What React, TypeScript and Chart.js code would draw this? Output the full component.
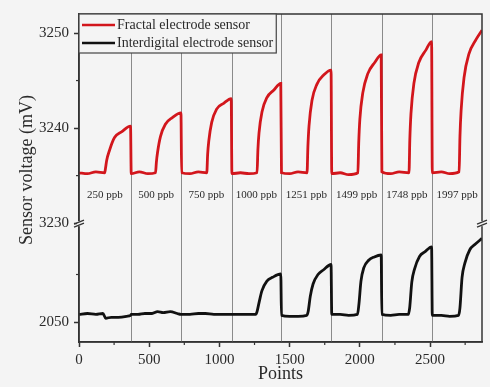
import React, { useEffect, useRef } from 'react';
import { Chart, registerables } from 'chart.js';

Chart.register(...registerables);

const FONT = "'Liberation Serif', 'Times New Roman', serif";
const BG = '#f4f4f4';
const INK = '#2a2a2a';

// ---- data ----
const fractalLabel = 'Fractal electrode sensor';
const interLabel = 'Interdigital electrode sensor';

const fractalX = [
  0, 60, 120, 183, 189, 197, 218, 253, 303, 367,
  372, 430, 490, 545, 551, 559, 580, 615, 665, 726,
  731, 790, 850, 910, 916, 924, 945, 980, 1030, 1084,
  1089, 1150, 1210, 1268, 1274, 1282, 1303, 1338, 1388, 1437,
  1442, 1500, 1560, 1624, 1630, 1638, 1659, 1694, 1744, 1795,
  1800, 1860, 1920, 1986, 1992, 2000, 2021, 2056, 2106, 2152,
  2157, 2220, 2280, 2350, 2356, 2364, 2385, 2420, 2470, 2511,
  2516, 2580, 2640, 2707, 2713, 2721, 2742, 2777, 2827, 2870,
];
const fractalMv = [
  3235.3, 3235.2, 3235.4, 3235.3, 3235.8, 3236.6, 3237.7, 3239.0, 3239.6, 3240.2,
  3235.2, 3235.4, 3235.2, 3235.3, 3236.4, 3237.4, 3239.1, 3240.4, 3241.1, 3241.6,
  3235.3, 3235.2, 3235.4, 3235.3, 3237.2, 3238.6, 3240.6, 3242.0, 3242.6, 3243.1,
  3235.2, 3235.3, 3235.2, 3235.3, 3237.7, 3239.5, 3241.7, 3243.2, 3244.0, 3244.7,
  3235.3, 3235.2, 3235.4, 3235.3, 3238.0, 3240.2, 3242.9, 3244.6, 3245.6, 3246.1,
  3235.2, 3235.3, 3235.1, 3235.3, 3238.4, 3240.9, 3243.7, 3245.7, 3246.9, 3247.7,
  3235.4, 3235.2, 3235.4, 3235.3, 3238.8, 3241.5, 3244.7, 3246.9, 3248.2, 3249.1,
  3235.3, 3235.4, 3235.2, 3235.4, 3239.1, 3241.8, 3245.3, 3247.8, 3249.3, 3250.3,
];

const interX = [
  0, 60, 120, 170, 190, 230, 280, 340, 367,
  372, 420, 470, 520, 560, 600, 650, 700, 726,
  731, 790, 850, 900, 960, 1020, 1084,
  1089, 1150, 1200, 1258, 1268, 1283, 1303, 1338, 1378, 1437,
  1442, 1500, 1560, 1622, 1632, 1647, 1667, 1702, 1742, 1795,
  1800, 1860, 1920, 1983, 1993, 2008, 2028, 2063, 2103, 2152,
  2157, 2220, 2280, 2345, 2355, 2370, 2390, 2425, 2465, 2511,
  2516, 2580, 2640, 2703, 2713, 2728, 2748, 2783, 2823, 2870,
];
const interMv = [
  2050.8, 2050.9, 2050.8, 2050.9, 2050.4, 2050.5, 2050.5, 2050.6, 2050.7,
  2050.8, 2050.8, 2050.9, 2050.9, 2051.1, 2051.0, 2051.1, 2050.9, 2050.8,
  2050.8, 2050.8, 2050.9, 2050.9, 2050.8, 2050.8, 2050.8,
  2050.8, 2050.8, 2050.8, 2050.8, 2051.1, 2052.1, 2053.3, 2054.3, 2054.7, 2055.05,
  2050.7, 2050.6, 2050.6, 2050.7, 2051.1, 2052.7, 2054.0, 2055.0, 2055.5, 2056.05,
  2050.8, 2050.8, 2050.7, 2050.8, 2051.8, 2054.3, 2055.7, 2056.5, 2056.85, 2057.05,
  2050.8, 2050.7, 2050.8, 2050.8, 2051.5, 2054.2, 2055.6, 2056.9, 2057.4, 2057.9,
  2050.7, 2050.7, 2050.6, 2050.7, 2051.5, 2054.7, 2056.2, 2057.6, 2058.2, 2058.8,
];

const segmentEdges = [0, 370, 729, 1087, 1440, 1798, 2155, 2514, 2870];
const concentrations = ['250 ppb', '500 ppb', '750 ppb', '1000 ppb', '1251 ppb', '1499 ppb', '1748 ppb', '1997 ppb'];
const concentrationLabelMv = 3233;

const xMin = 0;
const xMax = 2870;
const xMajorTicks = [0, 500, 1000, 1500, 2000, 2500];
const xMinorTicks = [250, 750, 1250, 1750, 2250, 2750];

const yTopMin = 3230;
const yTopMax = 3252;
const yTopMajorTicks = [3230, 3240, 3250];
const yTopMinorTicks = [3235, 3245];

const yBotMin = 2047.9;
const yBotMax = 2060.4;
const yBotMajorTicks = [2050];
const yBotMinorTicks = [2055];

const xTitle = 'Points';
const yTitle = 'Sensor voltage (mV)';

const RED = '#d2161c';
const BLACK = '#111111';

const toPoints = (xs: number[], ys: number[]) => xs.map((x, i) => ({ x, y: ys[i] }));
const plainLabel = (v: any) => String(v);

const decorPlugin = {
  id: 'decor',
  beforeDraw(chart: any) {
    const { ctx, width, height } = chart;
    ctx.save();
    ctx.fillStyle = BG;
    ctx.fillRect(0, 0, width, height);
    ctx.restore();
  },
  beforeDatasetsDraw(chart: any) {
    const { ctx, chartArea } = chart;
    const xs = chart.scales.x;
    ctx.save();
    ctx.strokeStyle = '#8a8a8a';
    ctx.lineWidth = 1;
    for (let i = 1; i < segmentEdges.length - 1; i++) {
      const px = Math.round(xs.getPixelForValue(segmentEdges[i])) + 0.5;
      ctx.beginPath();
      ctx.moveTo(px, chartArea.top);
      ctx.lineTo(px, chartArea.bottom);
      ctx.stroke();
    }
    ctx.restore();
  },
  afterDatasetsDraw(chart: any) {
    const { ctx, chartArea } = chart;
    const xs = chart.scales.x;
    const yt = chart.scales.yTop;
    const yb = chart.scales.yBot;
    ctx.save();

    // concentration labels
    ctx.fillStyle = INK;
    ctx.font = `11px ${FONT}`;
    ctx.textAlign = 'center';
    ctx.textBaseline = 'middle';
    const ly = yt.getPixelForValue(concentrationLabelMv);
    for (let i = 0; i < concentrations.length; i++) {
      const cx = (xs.getPixelForValue(segmentEdges[i]) + xs.getPixelForValue(segmentEdges[i + 1])) / 2;
      ctx.fillText(concentrations[i], cx, ly);
    }

    // frame
    ctx.strokeStyle = '#333';
    ctx.lineWidth = 1.5;
    ctx.strokeRect(chartArea.left, chartArea.top, chartArea.right - chartArea.left, chartArea.bottom - chartArea.top);

    // minor ticks
    ctx.lineWidth = 1.2;
    for (const v of xMinorTicks) {
      const px = xs.getPixelForValue(v);
      ctx.beginPath();
      ctx.moveTo(px, chartArea.bottom);
      ctx.lineTo(px, chartArea.bottom + 3);
      ctx.stroke();
    }
    for (const v of yTopMinorTicks) {
      const py = yt.getPixelForValue(v);
      ctx.beginPath();
      ctx.moveTo(chartArea.left - 3, py);
      ctx.lineTo(chartArea.left, py);
      ctx.stroke();
    }
    for (const v of yBotMinorTicks) {
      const py = yb.getPixelForValue(v);
      ctx.beginPath();
      ctx.moveTo(chartArea.left - 3, py);
      ctx.lineTo(chartArea.left, py);
      ctx.stroke();
    }

    // axis break marks
    const by = yt.getPixelForValue(yTopMin);
    for (const bx of [chartArea.left, chartArea.right]) {
      ctx.fillStyle = BG;
      ctx.fillRect(bx - 2, by - 2, 4, 5);
      ctx.strokeStyle = '#333';
      ctx.lineWidth = 1.3;
      ctx.beginPath();
      ctx.moveTo(bx - 5, by + 1);
      ctx.lineTo(bx + 5, by - 3);
      ctx.moveTo(bx - 5, by + 4);
      ctx.lineTo(bx + 5, by);
      ctx.stroke();
    }

    // legend
    ctx.font = `14px ${FONT}`;
    const items = chart.data.datasets.map((d: any) => ({ label: d.label, color: d.borderColor }));
    const textX = chartArea.left + 38;
    let maxW = 0;
    for (const it of items) maxW = Math.max(maxW, ctx.measureText(it.label).width);
    const boxW = textX - chartArea.left + maxW + 3;
    const boxH = 39;
    ctx.fillStyle = BG;
    ctx.fillRect(chartArea.left, chartArea.top, boxW, boxH);
    ctx.strokeStyle = '#444';
    ctx.lineWidth = 1.2;
    ctx.strokeRect(chartArea.left, chartArea.top, boxW, boxH);
    items.forEach((it: any, i: number) => {
      const rowY = chartArea.top + 11 + i * 18;
      ctx.strokeStyle = it.color;
      ctx.lineWidth = 2.5;
      ctx.beginPath();
      ctx.moveTo(chartArea.left + 3, rowY);
      ctx.lineTo(chartArea.left + 36, rowY);
      ctx.stroke();
      ctx.fillStyle = INK;
      ctx.textAlign = 'left';
      ctx.textBaseline = 'middle';
      ctx.fillText(it.label, textX, rowY);
    });

    // y title
    ctx.save();
    ctx.translate(27, 170);
    ctx.rotate(-Math.PI / 2);
    ctx.font = `18px ${FONT}`;
    ctx.fillStyle = INK;
    ctx.textAlign = 'center';
    ctx.textBaseline = 'middle';
    ctx.fillText(yTitle, 0, 0);
    ctx.restore();

    ctx.restore();
  },
};

export default function App() {
  const canvasRef = useRef<HTMLCanvasElement | null>(null);

  useEffect(() => {
    if (!canvasRef.current) return;
    const tickFont = { family: FONT, size: 15 };
    const chart = new Chart(canvasRef.current, {
      type: 'line',
      data: {
        datasets: [
          {
            label: fractalLabel,
            data: toPoints(fractalX, fractalMv),
            yAxisID: 'yTop',
            borderColor: RED,
            borderWidth: 2.8,
            pointRadius: 0,
            cubicInterpolationMode: 'monotone',
            fill: false,
          },
          {
            label: interLabel,
            data: toPoints(interX, interMv),
            yAxisID: 'yBot',
            borderColor: BLACK,
            borderWidth: 2.8,
            pointRadius: 0,
            cubicInterpolationMode: 'monotone',
            fill: false,
          },
        ],
      },
      options: {
        animation: false,
        responsive: true,
        maintainAspectRatio: false,
        devicePixelRatio: 1,
        layout: { padding: { top: 14, right: 8, left: 0, bottom: 0 } },
        plugins: {
          legend: { display: false },
          tooltip: { enabled: false },
        },
        scales: {
          x: {
            type: 'linear',
            min: xMin,
            max: xMax,
            afterBuildTicks: (s: any) => { s.ticks = xMajorTicks.map((v) => ({ value: v })); },
            afterFit: (s: any) => { s.height = 45; },
            ticks: { font: tickFont, color: INK, padding: 4, maxRotation: 0, autoSkip: false, includeBounds: false, callback: plainLabel },
            grid: { drawOnChartArea: false, tickLength: 5, tickColor: '#333', tickWidth: 1.5 },
            border: { color: '#333', width: 1.5 },
            title: { display: true, text: xTitle, font: { family: FONT, size: 18 }, color: INK, padding: { top: 0, bottom: 2 } },
          },
          yBot: {
            type: 'linear',
            position: 'left',
            stack: 'v',
            stackWeight: yBotMax - yBotMin,
            min: yBotMin,
            max: yBotMax,
            afterBuildTicks: (s: any) => { s.ticks = yBotMajorTicks.map((v) => ({ value: v })); },
            afterFit: (s: any) => { s.width = 79; },
            ticks: { font: tickFont, color: INK, padding: 5, includeBounds: false, callback: plainLabel },
            grid: { drawOnChartArea: false, tickLength: 5, tickColor: '#333', tickWidth: 1.5 },
            border: { color: '#333', width: 1.5 },
          },
          yTop: {
            type: 'linear',
            position: 'left',
            stack: 'v',
            stackWeight: yTopMax - yTopMin,
            min: yTopMin,
            max: yTopMax,
            afterBuildTicks: (s: any) => { s.ticks = yTopMajorTicks.map((v) => ({ value: v })); },
            afterFit: (s: any) => { s.width = 79; },
            ticks: { font: tickFont, color: INK, padding: 5, includeBounds: false, callback: plainLabel },
            grid: { drawOnChartArea: false, tickLength: 5, tickColor: '#333', tickWidth: 1.5 },
            border: { color: '#333', width: 1.5 },
          },
        },
      } as any,
      plugins: [decorPlugin],
    });
    return () => chart.destroy();
  }, []);

  return (
    <div style={{ position: 'absolute', left: 0, top: 0, width: 490, height: 387, background: BG }}>
      <canvas ref={canvasRef} />
    </div>
  );
}
